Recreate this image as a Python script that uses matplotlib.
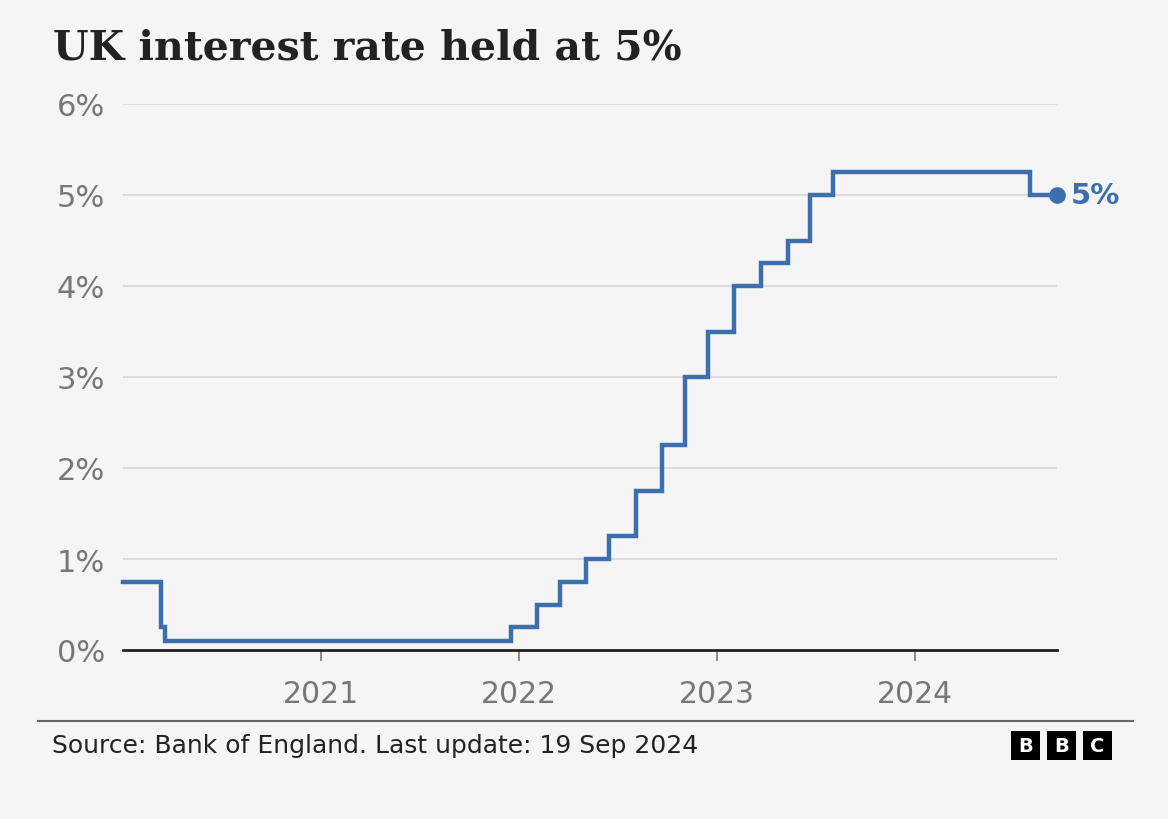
import matplotlib
matplotlib.use("Agg")
import matplotlib.pyplot as plt
from matplotlib.patches import Rectangle
import datetime as dt

# Data: Bank Rate change dates and values
change_dates = ["2020-01-01", "2020-03-11", "2020-03-19", "2021-12-16", "2022-02-03",
                "2022-03-17", "2022-05-05", "2022-06-16", "2022-08-04", "2022-09-22",
                "2022-11-03", "2022-12-15", "2023-02-02", "2023-03-23", "2023-05-11",
                "2023-06-22", "2023-08-03", "2024-08-01", "2024-09-19"]
rates = [0.75, 0.25, 0.1, 0.25, 0.5, 0.75, 1.0, 1.25, 1.75, 2.25,
         3.0, 3.5, 4.0, 4.25, 4.5, 5.0, 5.25, 5.0, 5.0]
y_ticks = [0, 1, 2, 3, 4, 5, 6]
y_labels = ["0%", "1%", "2%", "3%", "4%", "5%", "6%"]
x_ticks = ["2021-01-01", "2022-01-01", "2023-01-01", "2024-01-01"]
x_labels = ["2021", "2022", "2023", "2024"]

title = "UK interest rate held at 5%"
source = "Source: Bank of England. Last update: 19 Sep 2024"

BG = "#f5f5f5"
BLUE = "#3d6fae"
GREY = "#777777"

dates = [dt.datetime.strptime(d, "%Y-%m-%d") for d in change_dates]
xt = [dt.datetime.strptime(d, "%Y-%m-%d") for d in x_ticks]

W, H = 1168, 820
fig = plt.figure(figsize=(W / 100, H / 100), dpi=100, facecolor=BG)
ax = fig.add_axes([123 / W, 1 - 651 / H, (1057 - 123) / W, (651 - 105) / H])
ax.set_facecolor(BG)

ax.step(dates, rates, where="post", color=BLUE, lw=3.2, solid_joinstyle="miter", zorder=3, clip_on=False)
ax.plot([dates[-1]], [rates[-1]], "o", color=BLUE, ms=11, zorder=4, clip_on=False)
ax.annotate("5%", xy=(dates[-1], rates[-1]), xytext=(10, 0), textcoords="offset points",
            ha="left", va="center", color=BLUE, fontsize=21, fontweight="bold",
            annotation_clip=False)

ax.set_xlim(dates[0], dates[-1])
ax.set_ylim(0, 6)
ax.set_yticks(y_ticks)
ax.set_yticklabels(y_labels)
ax.set_xticks(xt)
ax.set_xticklabels(x_labels)
ax.grid(axis="y", color="#d6d6d6", lw=1.2, zorder=1)
ax.grid(axis="x", visible=False)
for s in ["top", "right", "left"]:
    ax.spines[s].set_visible(False)
ax.spines["bottom"].set_color("#222222")
ax.spines["bottom"].set_linewidth(2)
ax.spines["bottom"].set_zorder(5)
ax.tick_params(axis="y", length=0, pad=13, labelsize=22, labelcolor=GREY)
ax.tick_params(axis="x", length=8, width=1.2, color=GREY, pad=13, labelsize=21.5, labelcolor=GREY)

fig.text(53 / W, 1 - 48 / H, title, ha="left", va="center", fontsize=29.5,
         family="DejaVu Serif", fontweight="bold", color="#222222")

fig.add_artist(plt.Line2D([38 / W, 1133 / W], [1 - 722 / H, 1 - 722 / H],
                          color="#666666", lw=1.5, transform=fig.transFigure))
fig.text(52 / W, 1 - 746 / H, source, ha="left", va="center", fontsize=18, color="#222222")

for i, letter in enumerate("BBC"):
    x0 = 1011 + i * 36
    fig.add_artist(Rectangle((x0 / W, 1 - 761 / H), 29 / W, 29 / H, transform=fig.transFigure,
                             facecolor="black", edgecolor="none"))
    fig.text((x0 + 14.5) / W, 1 - 746.5 / H, letter, ha="center", va="center",
             fontsize=14, fontweight="bold", color="white")

fig.savefig("out.png", dpi=100, facecolor=BG)
